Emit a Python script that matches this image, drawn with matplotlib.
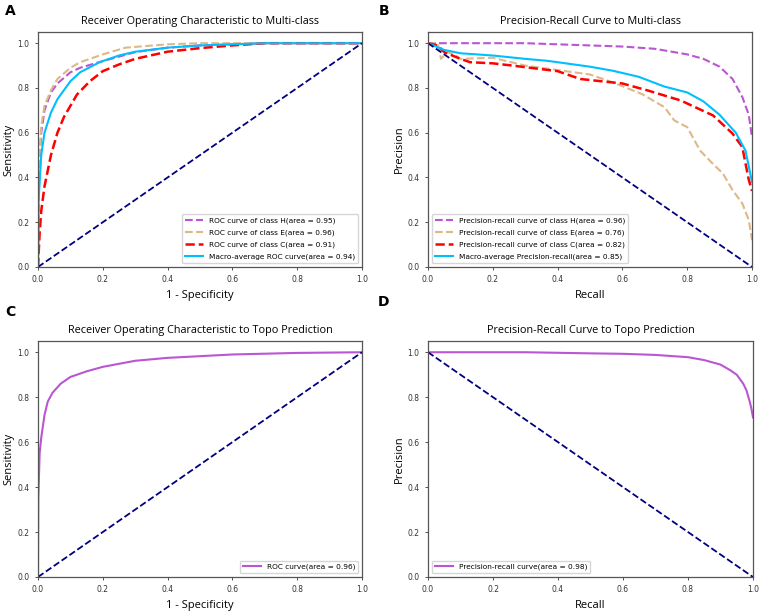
import matplotlib.pyplot as plt
import numpy as np

# ---- panel A: ROC, multi-class ----
roc_h_fpr = [0, 0.003, 0.01, 0.02, 0.04, 0.06, 0.1, 0.13, 0.2, 0.25, 0.3, 0.4, 0.5, 0.7, 1.0]
roc_h_tpr = [0, 0.42, 0.6, 0.7, 0.78, 0.82, 0.87, 0.89, 0.92, 0.94, 0.96, 0.98, 0.99, 1.0, 1.0]
roc_e_fpr = [0, 0.003, 0.01, 0.02, 0.04, 0.06, 0.1, 0.13, 0.2, 0.27, 0.4, 0.5, 1.0]
roc_e_tpr = [0, 0.45, 0.63, 0.72, 0.79, 0.84, 0.89, 0.915, 0.95, 0.98, 0.995, 1.0, 1.0]
roc_c_fpr = [0, 0.005, 0.01, 0.02, 0.04, 0.06, 0.08, 0.1, 0.12, 0.16, 0.2, 0.25, 0.3, 0.4, 0.5, 0.6, 0.7, 1.0]
roc_c_tpr = [0, 0.15, 0.25, 0.36, 0.5, 0.6, 0.67, 0.72, 0.77, 0.83, 0.875, 0.905, 0.93, 0.962, 0.978, 0.99, 1.0, 1.0]
roc_m_fpr = [0, 0.002, 0.01, 0.02, 0.04, 0.06, 0.1, 0.13, 0.19, 0.25, 0.3, 0.4, 0.5, 0.6, 0.7, 1.0]
roc_m_tpr = [0, 0.3, 0.5, 0.6, 0.69, 0.75, 0.83, 0.87, 0.915, 0.945, 0.962, 0.98, 0.99, 0.995, 1.0, 1.0]

# ---- panel B: precision-recall, multi-class ----
pr_h_rec = [0, 0.3, 0.5, 0.6, 0.7, 0.8, 0.85, 0.9, 0.94, 0.97, 0.99, 1.0]
pr_h_prec = [1.0, 1.0, 0.99, 0.985, 0.975, 0.95, 0.93, 0.895, 0.84, 0.76, 0.68, 0.58]
pr_e_rec = [0, 0.03, 0.04, 0.06, 0.08, 0.1, 0.2, 0.3, 0.4, 0.5, 0.57, 0.66, 0.73, 0.76, 0.8, 0.84,
            0.88, 0.91, 0.94, 0.97, 0.99, 1.0]
pr_e_prec = [1.0, 1.0, 0.93, 0.96, 0.95, 0.93, 0.935, 0.9, 0.88, 0.86, 0.825, 0.773, 0.714, 0.655,
             0.625, 0.52, 0.46, 0.418, 0.344, 0.284, 0.21, 0.12]
pr_c_rec = [0, 0.03, 0.05, 0.1, 0.13, 0.2, 0.26, 0.4, 0.47, 0.6, 0.68, 0.78, 0.88, 0.94, 0.97, 0.99, 1.0]
pr_c_prec = [1.0, 0.99, 0.96, 0.93, 0.915, 0.91, 0.9, 0.875, 0.84, 0.82, 0.788, 0.744, 0.677, 0.596,
             0.536, 0.39, 0.34]
pr_m_rec = [0, 0.05, 0.1, 0.2, 0.3, 0.37, 0.5, 0.57, 0.65, 0.73, 0.8, 0.85, 0.9, 0.95, 0.98, 1.0]
pr_m_prec = [1.0, 0.97, 0.955, 0.945, 0.93, 0.921, 0.895, 0.877, 0.85, 0.806, 0.78, 0.74, 0.68, 0.6, 0.52, 0.38]

# ---- panel C / D: topo prediction ----
topo_fpr = [0, 0.001, 0.005, 0.01, 0.02, 0.03, 0.045, 0.07, 0.1, 0.15, 0.2, 0.3, 0.4, 0.6, 0.8, 1.0]
topo_tpr = [0, 0.35, 0.55, 0.62, 0.72, 0.78, 0.82, 0.86, 0.89, 0.915, 0.935, 0.962, 0.975, 0.99, 0.997, 1.0]
topo_rec = [0, 0.3, 0.5, 0.6, 0.7, 0.8, 0.85, 0.9, 0.93, 0.95, 0.97, 0.98, 0.99, 0.995, 1.0]
topo_prec = [1.0, 1.0, 0.995, 0.993, 0.988, 0.978, 0.965, 0.945, 0.92, 0.9, 0.86, 0.83, 0.78, 0.75, 0.71]

titles = ["Receiver Operating Characteristic to Multi-class",
          "Precision-Recall Curve to Multi-class",
          "Receiver Operating Characteristic to Topo Prediction",
          "Precision-Recall Curve to Topo Prediction"]

c_h = "mediumorchid"
c_e = "burlywood"
c_c = "red"
c_m = "deepskyblue"

W, H = 763, 615
fig = plt.figure(figsize=(W / 100, H / 100), dpi=100)

def px_axes(x0, y0, x1, y1):
    return fig.add_axes([x0 / W, 1 - y1 / H, (x1 - x0) / W, (y1 - y0) / H])

axA = px_axes(38, 32, 362, 267)
axB = px_axes(428, 32, 752, 267)
axC = px_axes(38, 341, 362, 577)
axD = px_axes(428, 341, 753, 577)

lab_font = "Open Sans"

def style(ax, title, xlabel, ylabel):
    ax.set_xlim(0, 1.0)
    ax.set_ylim(0, 1.05)
    ax.set_xticks(np.arange(0, 1.01, 0.2))
    ax.set_yticks(np.arange(0, 1.01, 0.2))
    ax.tick_params(labelsize=5.5, length=2.5, width=0.6, colors="#333333")
    for s in ax.spines.values():
        s.set_color("#555555")
        s.set_linewidth(0.9)
    ax.set_title(title, fontsize=7.8, family=lab_font, pad=6)
    ax.set_xlabel(xlabel, fontsize=8, family=lab_font, labelpad=4)
    ax.set_ylabel(ylabel, fontsize=8, family=lab_font, labelpad=2)

leg_kw = dict(fontsize=5.3, handlelength=2.5, labelspacing=0.75)

# A
axA.plot(roc_h_fpr, roc_h_tpr, color=c_h, ls="--", lw=1.5, label="ROC curve of class H(area = 0.95)")
axA.plot(roc_e_fpr, roc_e_tpr, color=c_e, ls="--", lw=1.5, label="ROC curve of class E(area = 0.96)")
axA.plot(roc_c_fpr, roc_c_tpr, color=c_c, ls="--", lw=1.8, label="ROC curve of class C(area = 0.91)")
axA.plot(roc_m_fpr, roc_m_tpr, color=c_m, ls="-", lw=1.5, label="Macro-average ROC curve(area = 0.94)")
axA.plot([0, 1], [0, 1], color="navy", ls="--", lw=1.3)
style(axA, titles[0], "1 - Specificity", "Sensitivity")
axA.legend(loc="lower right", **leg_kw)

# B
axB.plot(pr_h_rec, pr_h_prec, color=c_h, ls="--", lw=1.5, label="Precision-recall curve of class H(area = 0.96)")
axB.plot(pr_e_rec, pr_e_prec, color=c_e, ls="--", lw=1.5, label="Precision-recall curve of class E(area = 0.76)")
axB.plot(pr_c_rec, pr_c_prec, color=c_c, ls="--", lw=1.8, label="Precision-recall curve of class C(area = 0.82)")
axB.plot(pr_m_rec, pr_m_prec, color=c_m, ls="-", lw=1.5, label="Macro-average Precision-recall(area = 0.85)")
axB.plot([0, 1], [1, 0], color="navy", ls="--", lw=1.3)
style(axB, titles[1], "Recall", "Precision")
axB.legend(loc="lower left", **leg_kw)

# C
axC.plot(topo_fpr, topo_tpr, color=c_h, lw=1.5, label="ROC curve(area = 0.96)")
axC.plot([0, 1], [0, 1], color="navy", ls="--", lw=1.3)
style(axC, titles[2], "1 - Specificity", "Sensitivity")
axC.legend(loc="lower right", **leg_kw)

# D
axD.plot(topo_rec, topo_prec, color=c_h, lw=1.5, label="Precision-recall curve(area = 0.98)")
axD.plot([0, 1], [1, 0], color="navy", ls="--", lw=1.3)
style(axD, titles[3], "Recall", "Precision")
axD.legend(loc="lower left", **leg_kw)

for letter, (x, y) in zip("ABCD", [(10, 11), (384, 11), (10, 312), (384, 302)]):
    fig.text(x / W, 1 - y / H, letter, fontsize=10, fontweight="bold", ha="center", va="center")

fig.savefig("out.png", dpi=100)
